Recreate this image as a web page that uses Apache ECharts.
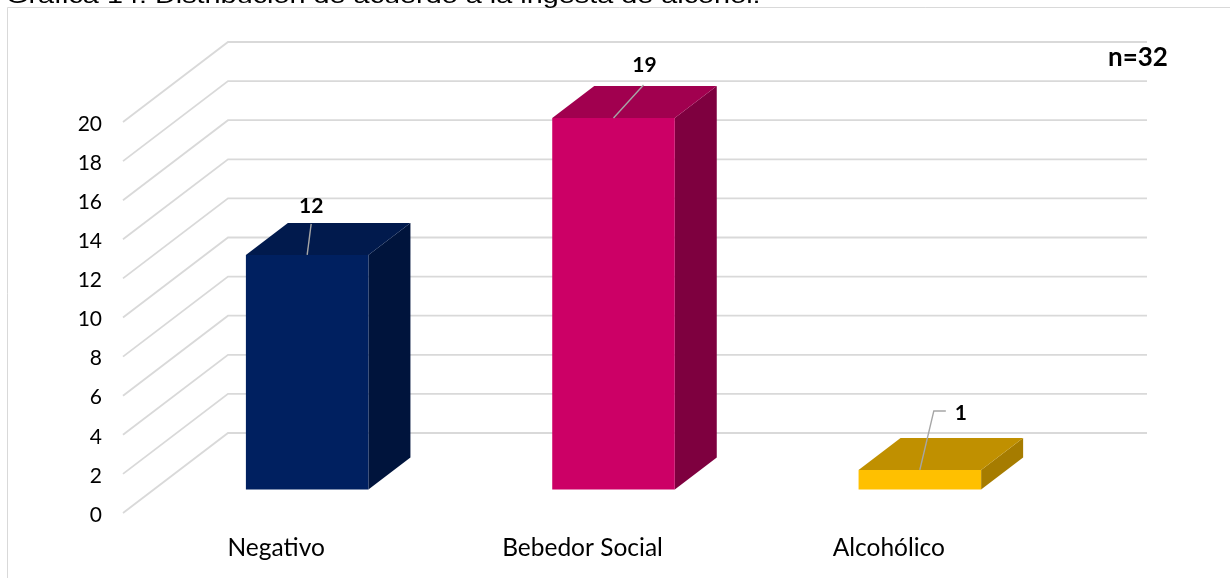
<!DOCTYPE html>
<html><head><meta charset="utf-8">
<style>html,body{margin:0;padding:0;background:#fff}#c{width:1230px;height:578px}</style>
<script src="https://cdn.jsdelivr.net/npm/echarts@6/dist/echarts.min.js"></script>
</head><body><div id="c"></div>
<script>
const categories = ['Negativo', 'Bebedor Social', 'Alcohólico'];
const values = [12, 19, 1];
const yTicks = [0, 2, 4, 6, 8, 10, 12, 14, 16, 18, 20];
const titleText = 'Gráfica 14. Distribución de acuerdo a la ingesta de alcohol.';
const noteText = 'n=32';

// bar colours: front, top, side
const frontColors = ['#002060', '#CC0066', '#FFC000'];
const topColors = ['#011A4D', '#A1004F', '#C09000'];
const sideColors = ['#00143C', '#7E003F', '#A67C00'];
// leader line bends, pixels from the top-front centre of each bar
const leaders = [
  [[4, -31]],
  [[30, -33]],
  [[14, -59], [26, -59]]
];
const labelOffsets = [[4, -49], [31, -52.5], [41, -57]];

const WALL_DX = 105, WALL_DY = -80;      // front plane -> back wall
const BAR_SHIFT_X = 31, BAR_SHIFT_Y = -23.5; // front plane -> bar front
const BAR_DX = 42, BAR_DY = -32;         // bar depth
const BAR_WIDTH = 0.4;
const LABEL_FONT = 'Lato, Carlito, "Open Sans", sans-serif';

function gridItem(params, api) {
  const v = api.value(0);
  const band = api.size([1, 0])[0];
  const l = api.coord([0, v])[0] - band / 2;
  const r = api.coord([2, v])[0] + band / 2;
  const y = api.coord([0, v])[1];
  return {
    type: 'polyline',
    shape: { points: [[l, y], [l + WALL_DX, y + WALL_DY], [r + WALL_DX, y + WALL_DY]] },
    style: { fill: null, stroke: '#D9D9D9', lineWidth: 1.8 },
    silent: true
  };
}

function barItem(params, api) {
  const i = api.value(0);
  const v = api.value(1);
  const band = api.size([1, 0])[0];
  const c = api.coord([i, v]);
  const b = api.coord([i, 0]);
  const w = band * BAR_WIDTH;
  const x0 = c[0] - w / 2 + BAR_SHIFT_X, x1 = x0 + w;
  const yt = c[1] + BAR_SHIFT_Y, yb = b[1] + BAR_SHIFT_Y;
  const cx = (x0 + x1) / 2;
  const leadPts = [[cx, yt]].concat(leaders[i].map(p => [cx + p[0], yt + p[1]]));
  const lo = labelOffsets[i];
  return {
    type: 'group',
    children: [
      { type: 'polygon', shape: { points: [[x1, yt], [x1 + BAR_DX, yt + BAR_DY], [x1 + BAR_DX, yb + BAR_DY], [x1, yb]] }, style: { fill: sideColors[i] } },
      { type: 'polygon', shape: { points: [[x0, yt], [x0 + BAR_DX, yt + BAR_DY], [x1 + BAR_DX, yt + BAR_DY], [x1, yt]] }, style: { fill: topColors[i] } },
      { type: 'rect', shape: { x: x0, y: yt, width: w, height: yb - yt }, style: { fill: frontColors[i] } },
      { type: 'polyline', shape: { points: leadPts }, style: { fill: null, stroke: '#A6A6A6', lineWidth: 1.4 } },
      { type: 'text', x: cx + lo[0], y: yt + lo[1], style: { text: String(v), fill: '#000', font: 'bold 21px ' + LABEL_FONT, align: 'center', verticalAlign: 'middle' } }
    ]
  };
}

const chart = echarts.init(document.getElementById('c'), null, { renderer: 'canvas' });
chart.setOption({
  animation: false,
  backgroundColor: '#fff',
  grid: { left: 123, right: 188, top: 122, bottom: 65 },
  xAxis: {
    type: 'category', data: categories,
    axisLine: { show: false }, axisTick: { show: false }, splitLine: { show: false },
    axisLabel: { color: '#000', fontFamily: LABEL_FONT, fontSize: 24.5, margin: 23 }
  },
  yAxis: {
    type: 'value', min: 0, max: 20, interval: 2,
    axisLine: { show: false }, axisTick: { show: false }, splitLine: { show: false },
    axisLabel: { color: '#000', fontFamily: LABEL_FONT, fontSize: 21, margin: 21, verticalAlign: 'top', lineHeight: 4 }
  },
  graphic: [
    { type: 'rect', shape: { x: 7.5, y: 7.5, width: 1300, height: 700 }, style: { fill: 'none', stroke: '#D9D9D9', lineWidth: 1 }, silent: true, z: -1 },
    { type: 'text', x: 6, y: 8, scaleX: 1.31, z: 5, style: { text: titleText, fill: '#000', font: '22px "Liberation Sans", Arial, sans-serif', verticalAlign: 'bottom' } },
    { type: 'text', left: 1108, top: 45, style: { text: noteText, fill: '#000', font: 'bold 26px ' + LABEL_FONT } }
  ],
  series: [
    { type: 'custom', name: 'grid', data: yTicks.map(v => [v]), renderItem: gridItem, encode: { y: 0 }, z: 1, silent: true },
    { type: 'custom', name: 'bars', data: values.map((v, i) => [i, v]), renderItem: barItem, encode: { x: 0, y: 1 }, z: 2, silent: true }
  ]
});
</script></body></html>
